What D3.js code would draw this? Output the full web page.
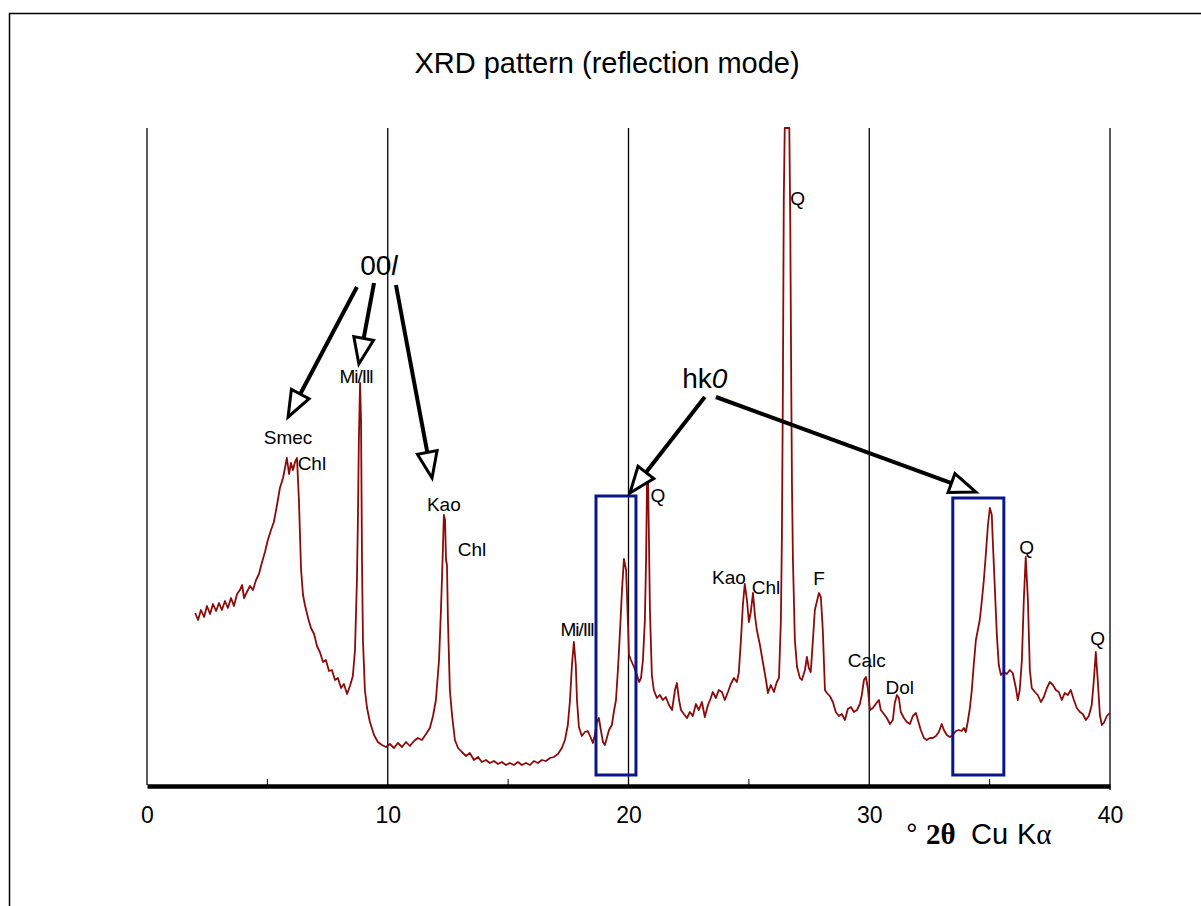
<!DOCTYPE html>
<html>
<head>
<meta charset="utf-8">
<script src="https://cdn.jsdelivr.net/npm/d3@7"></script>
<style>
  body { margin: 0; background: #fff; }
  text { font-family: "Liberation Sans", Arial, sans-serif; fill: #000; }
</style>
</head>
<body>
<script>
// diffraction angle (deg 2theta) and intensity (arbitrary counts)
let twoTheta = [
  2.00, 2.12, 2.24, 2.37, 2.49, 2.62, 2.74, 2.87, 2.99, 3.11, 3.24, 3.36, 3.49, 3.61, 3.74, 3.86, 3.95, 4.03, 4.15, 4.28,
  4.40, 4.53, 4.65, 4.78, 4.90, 5.02, 5.15, 5.27, 5.40, 5.52, 5.65, 5.73, 5.81, 5.90, 5.98, 6.06, 6.15, 6.23, 6.31, 6.40,
  6.48, 6.56, 6.69, 6.81, 6.94, 7.06, 7.18, 7.31, 7.43, 7.56, 7.68, 7.81, 7.93, 8.06, 8.18, 8.31, 8.43, 8.55, 8.64, 8.72,
  8.76, 8.80, 8.85, 8.89, 8.93, 8.97, 9.05, 9.14, 9.26, 9.43, 9.59, 9.76, 9.93, 10.09, 10.26, 10.42, 10.59, 10.76, 10.92, 11.09,
  11.25, 11.42, 11.59, 11.75, 11.88, 12.00, 12.13, 12.21, 12.29, 12.33, 12.38, 12.42, 12.46, 12.50, 12.58, 12.67, 12.79, 12.92, 13.08, 13.25,
  13.41, 13.58, 13.75, 13.91, 14.08, 14.24, 14.41, 14.58, 14.74, 14.91, 15.07, 15.24, 15.41, 15.57, 15.74, 15.91, 16.07, 16.24, 16.40, 16.57,
  16.74, 16.90, 17.07, 17.23, 17.36, 17.48, 17.57, 17.65, 17.73, 17.81, 17.86, 17.94, 18.06, 18.19, 18.31, 18.44, 18.52, 18.60, 18.69, 18.77,
  18.85, 18.94, 19.02, 19.10, 19.19, 19.31, 19.39, 19.48, 19.56, 19.65, 19.73, 19.81, 19.90, 19.93, 19.98, 20.02, 20.10, 20.23, 20.35, 20.44,
  20.52, 20.60, 20.68, 20.73, 20.77, 20.81, 20.85, 20.89, 20.97, 21.05, 21.18, 21.30, 21.43, 21.55, 21.68, 21.81, 21.93, 22.01, 22.10, 22.18,
  22.30, 22.43, 22.55, 22.67, 22.80, 22.92, 23.05, 23.17, 23.30, 23.42, 23.50, 23.63, 23.75, 23.88, 24.00, 24.13, 24.25, 24.38, 24.50, 24.58,
  24.67, 24.75, 24.83, 24.92, 25.00, 25.08, 25.17, 25.25, 25.33, 25.46, 25.58, 25.71, 25.79, 25.91, 26.04, 26.16, 26.25, 26.33, 26.37, 26.41,
  26.45, 26.49, 26.54, 26.62, 26.68, 26.72, 26.76, 26.79, 26.83, 26.91, 27.00, 27.12, 27.20, 27.33, 27.41, 27.49, 27.57, 27.66, 27.74, 27.82,
  27.91, 27.99, 28.07, 28.16, 28.24, 28.36, 28.49, 28.61, 28.74, 28.86, 28.99, 29.11, 29.24, 29.36, 29.49, 29.61, 29.69, 29.78, 29.86, 29.94,
  30.03, 30.15, 30.27, 30.40, 30.48, 30.61, 30.73, 30.86, 30.98, 31.06, 31.15, 31.23, 31.31, 31.44, 31.56, 31.69, 31.81, 31.94, 32.02, 32.14,
  32.27, 32.39, 32.52, 32.64, 32.77, 32.89, 33.01, 33.10, 33.22, 33.35, 33.47, 33.60, 33.72, 33.84, 33.93, 34.01, 34.09, 34.18, 34.26, 34.34,
  34.43, 34.51, 34.59, 34.68, 34.76, 34.84, 34.93, 35.01, 35.09, 35.13, 35.22, 35.30, 35.38, 35.47, 35.59, 35.71, 35.84, 35.96, 36.09, 36.17,
  36.25, 36.34, 36.42, 36.50, 36.59, 36.67, 36.75, 36.88, 37.00, 37.13, 37.25, 37.38, 37.50, 37.63, 37.75, 37.87, 38.00, 38.12, 38.25, 38.37,
  38.50, 38.62, 38.75, 38.87, 39.00, 39.12, 39.24, 39.33, 39.41, 39.49, 39.58, 39.66, 39.74, 39.87, 39.99
];
let counts = [
  172, 165, 175, 168, 179, 171, 181, 174, 182, 175, 184, 177, 187, 179, 191, 195, 200, 187, 193, 199,
  195, 205, 211, 223, 233, 245, 255, 263, 280, 297, 307, 317, 327, 311, 322, 315, 323, 327, 285, 215,
  190, 180, 167, 157, 151, 139, 133, 123, 125, 114, 115, 105, 107, 97, 101, 91, 99, 109, 135, 205,
  265, 345, 402, 365, 225, 145, 95, 77, 63, 50, 43, 40, 38, 41, 37, 42, 38, 43, 39, 44,
  47, 45, 51, 57, 69, 85, 125, 175, 235, 270, 265, 225, 220, 165, 95, 70, 45, 37, 33, 29,
  32, 25, 28, 23, 25, 22, 24, 21, 23, 20, 22, 20, 23, 20, 22, 20, 24, 22, 25, 24,
  27, 28, 31, 37, 45, 60, 85, 120, 143, 120, 85, 58, 49, 53, 54, 47, 42, 50, 63, 67,
  55, 43, 40, 47, 55, 60, 73, 85, 115, 155, 195, 226, 215, 195, 160, 130, 125, 118, 110, 103,
  107, 125, 165, 225, 305, 308, 245, 175, 110, 95, 87, 90, 85, 88, 80, 75, 95, 102, 85, 75,
  71, 67, 73, 69, 81, 75, 83, 68, 80, 87, 93, 87, 95, 93, 85, 93, 101, 107, 103, 112,
  145, 180, 201, 185, 163, 173, 192, 170, 155, 140, 123, 105, 92, 100, 93, 103, 107, 165, 245, 385,
  585, 800, 900, 900, 800, 560, 400, 300, 225, 145, 118, 107, 105, 115, 128, 117, 113, 145, 175, 183,
  192, 188, 155, 95, 92, 89, 83, 73, 69, 71, 65, 76, 78, 73, 75, 81, 90, 105, 108, 97,
  75, 77, 81, 85, 75, 71, 67, 61, 65, 82, 90, 87, 73, 67, 63, 61, 69, 72, 65, 55,
  47, 45, 47, 47, 49, 53, 61, 55, 50, 48, 50, 54, 55, 54, 57, 53, 63, 77, 95, 120,
  145, 155, 165, 185, 205, 230, 260, 277, 270, 245, 195, 150, 120, 110, 113, 111, 115, 112, 97, 85,
  95, 125, 185, 228, 185, 115, 97, 93, 90, 83, 88, 97, 103, 100, 95, 93, 85, 92, 90, 95,
  85, 77, 73, 71, 65, 69, 80, 105, 133, 105, 70, 60, 62, 69, 72
];

// peak labels: name, 2theta, count level of text baseline
let peakNames  = ["Smec", "Chl", "Mi/Ill", "Kao", "Chl", "Mi/Ill", "Q", "Q", "Kao", "Chl", "F", "Calc", "Dol", "Q", "Q"];
let peakTheta  = [5.86, 6.85, 8.68, 12.33, 13.50, 17.86, 21.22, 27.03, 24.17, 25.71, 27.91, 29.90, 31.27, 36.54, 39.49];
let peakLevel  = [341, 315, 402, 274, 229, 149, 283, 580, 201, 191, 200, 118, 91, 231, 140];

// reflection groups: label and arrows [from 2theta, from count, to 2theta, to count]
let groupLabels = [
  { main: "00", italic: "l", theta: 9.63, level: 510 },
  { main: "hk", italic: "0", theta: 23.17, level: 397 }
];
let arrows = [
  [8.72, 498, 5.86, 368],
  [9.43, 502, 8.80, 421],
  [10.34, 500, 11.84, 307],
  [23.17, 388, 20.06, 292],
  [23.63, 388, 34.43, 293]
];
// hk0 boxes [from 2theta, to 2theta, bottom count, top count]
let boxes = [
  [18.65, 20.31, 10, 289],
  [33.47, 35.59, 10, 287]
];

let majorTicks = [0, 10, 20, 30, 40];
let minorTicks = [5, 15, 25, 35];

let width = 1201, height = 906;
let svg = d3.select("body").append("svg")
  .attr("width", width)
  .attr("height", height);

// frame around figure
svg.append("rect")
  .attr("x", 9.5).attr("y", 13.5)
  .attr("width", 1300).attr("height", 1000)
  .attr("fill", "none")
  .attr("stroke", "#000")
  .attr("stroke-width", 1.5);

let x = d3.scaleLinear().domain([0, 40]).range([147, 1110]);
let y = d3.scaleLinear().domain([0, 657]).range([785, 128]).clamp(true);

// title
svg.append("text")
  .attr("x", 607).attr("y", 73)
  .attr("text-anchor", "middle")
  .style("font-size", "29px")
  .text("XRD pattern (reflection mode)");

// vertical grid lines
svg.selectAll(".grid")
  .data(majorTicks)
  .enter().append("line")
  .attr("class", "grid")
  .attr("x1", d => x(d)).attr("x2", d => x(d))
  .attr("y1", y(657)).attr("y2", d => d == 40 ? 790 : 785)
  .attr("stroke", "#000")
  .attr("stroke-width", 1.3);

// minor ticks
svg.selectAll(".minor")
  .data(minorTicks)
  .enter().append("line")
  .attr("class", "minor")
  .attr("x1", d => x(d)).attr("x2", d => x(d))
  .attr("y1", 779).attr("y2", 785)
  .attr("stroke", "#000")
  .attr("stroke-width", 1);

// x axis
let xAxis = d3.axisBottom(x)
  .tickValues(majorTicks)
  .tickSize(0)
  .tickPadding(21)
  .tickSizeOuter(0);

let axisG = svg.append("g")
  .attr("transform", "translate(0,786)")
  .call(xAxis);
axisG.select(".domain")
  .attr("stroke", "#000")
  .attr("stroke-width", 4.5);
axisG.selectAll("text")
  .style("font-family", "'Liberation Sans', Arial, sans-serif")
  .style("font-size", "23px")
  .attr("fill", "#000");

// axis title
let axisTitle = svg.append("text")
  .attr("y", 844)
  .style("font-size", "29px");
axisTitle.append("tspan").attr("x", 906).text("\u00B0");
axisTitle.append("tspan")
  .attr("x", 926)
  .style("font-family", "'Liberation Serif', 'Times New Roman', serif")
  .style("font-weight", "bold")
  .text("2\u03B8");
axisTitle.append("tspan").attr("x", 971).text("Cu");
axisTitle.append("tspan").attr("x", 1017).text("K");
axisTitle.append("tspan")
  .style("font-family", "'Liberation Serif', 'Times New Roman', serif")
  .text("\u03B1");

// diffractogram
let pattern = twoTheta.map((t, i) => [t, counts[i]]);
let line = d3.line()
  .x(d => x(d[0]))
  .y(d => y(d[1]));

svg.append("path")
  .datum(pattern)
  .attr("d", line)
  .attr("fill", "none")
  .attr("stroke", "#8b0a0a")
  .attr("stroke-width", 1.8)
  .attr("stroke-linejoin", "round");

// hk0 boxes
svg.selectAll(".box")
  .data(boxes)
  .enter().append("rect")
  .attr("class", "box")
  .attr("x", d => x(d[0]))
  .attr("y", d => y(d[3]))
  .attr("width", d => x(d[1]) - x(d[0]))
  .attr("height", d => y(d[2]) - y(d[3]))
  .attr("fill", "none")
  .attr("stroke", "#0a168c")
  .attr("stroke-width", 3);

// peak labels
svg.selectAll(".peak")
  .data(peakNames)
  .enter().append("text")
  .attr("class", "peak")
  .attr("x", (d, i) => x(peakTheta[i]))
  .attr("y", (d, i) => y(peakLevel[i]))
  .attr("text-anchor", "middle")
  .style("font-size", "19px")
  .style("letter-spacing", d => d == "Mi/Ill" ? "-1px" : null)
  .text(d => d);

// group labels
groupLabels.forEach(function(g) {
  let t = svg.append("text")
    .attr("x", x(g.theta)).attr("y", y(g.level))
    .attr("text-anchor", "middle")
    .style("font-size", "28px");
  t.append("tspan").text(g.main);
  t.append("tspan").style("font-style", "italic").text(g.italic);
});

// arrows with hollow heads
arrows.forEach(function(a) {
  let x1 = x(a[0]), y1 = y(a[1]), x2 = x(a[2]), y2 = y(a[3]);
  let len = Math.hypot(x2 - x1, y2 - y1);
  let ux = (x2 - x1) / len, uy = (y2 - y1) / len;
  let headLen = 26, headW = 10;
  let bx = x2 - ux * headLen, by = y2 - uy * headLen;

  svg.append("line")
    .attr("x1", x1).attr("y1", y1)
    .attr("x2", bx).attr("y2", by)
    .attr("stroke", "#000")
    .attr("stroke-width", 4);

  let pts = [
    [x2, y2],
    [bx - uy * headW, by + ux * headW],
    [bx + uy * headW, by - ux * headW]
  ];
  svg.append("polygon")
    .attr("points", pts.map(p => p.join(",")).join(" "))
    .attr("fill", "#fff")
    .attr("stroke", "#000")
    .attr("stroke-width", 3)
    .attr("stroke-linejoin", "miter");
});
</script>
</body>
</html>
